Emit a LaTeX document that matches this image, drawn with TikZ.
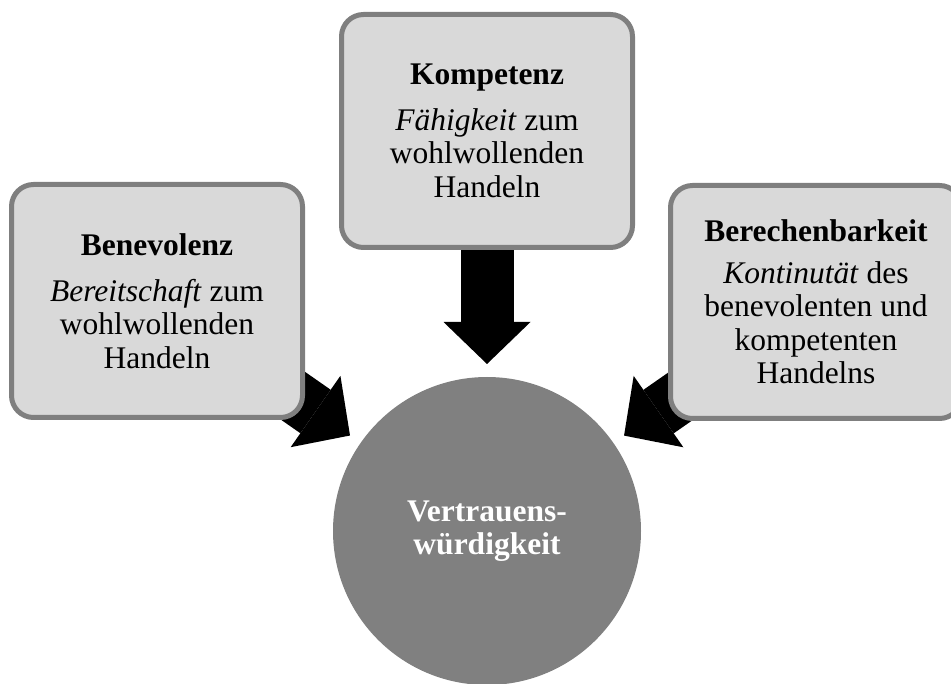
\documentclass[tikz,border=0pt]{standalone}
\usepackage{fontspec}
\setmainfont{Liberation Serif}
\usetikzlibrary{arrows.meta,backgrounds}
\definecolor{boxfill}{HTML}{D9D9D9}
\definecolor{boxline}{HTML}{7F7F7F}
\definecolor{coregray}{HTML}{808080}
\tikzset{
  factor/.style={rectangle, rounded corners=22pt, draw=boxline, line width=5pt,
    fill=boxfill, minimum width=291pt, minimum height=233pt, inner sep=0pt,
    outer sep=0pt, align=center, font=\fontsize{31.5}{33.5}\selectfont},
  core/.style={circle, fill=coregray, minimum size=308pt, inner sep=0pt,
    outer sep=0pt, align=center, text=white,
    font=\fontsize{31.5}{33.5}\selectfont\bfseries},
  bigarrow/.style={line width=53pt,
    -{Triangle[length=42pt,width=87pt,line width=0pt]}, shorten >=13pt}
}
\begin{document}
\begin{tikzpicture}[x=1pt,y=-1pt]
  \useasboundingbox (0,0) rectangle (951,684);
  \clip (0,0) rectangle (951,684);

  % central node
  \node[core] (vw) at (487,531) {Vertrauens-\\würdigkeit};

  % the three factors
  \node[factor] (ben) at (157,301)
    {\textbf{Benevolenz}\\[12pt]\textit{Bereitschaft} zum\\wohlwollenden\\Handeln};
  \node[factor] (komp) at (487,131)
    {\textbf{Kompetenz}\\[12pt]\textit{Fähigkeit} zum\\wohlwollenden\\Handeln};
  \node[factor] (ber) at (816,302)
    {\textbf{Berechenbarkeit}\\[8pt]\textit{Kontinutät} des\\benevolenten und\\kompetenten\\Handelns};

  % block arrows, behind the boxes
  \begin{scope}[on background layer]
    \draw[bigarrow] (ben.center) -- (vw);
    \draw[bigarrow] (komp.center) -- (vw);
    \draw[bigarrow] (ber.center) -- (vw);
  \end{scope}
\end{tikzpicture}
\end{document}
